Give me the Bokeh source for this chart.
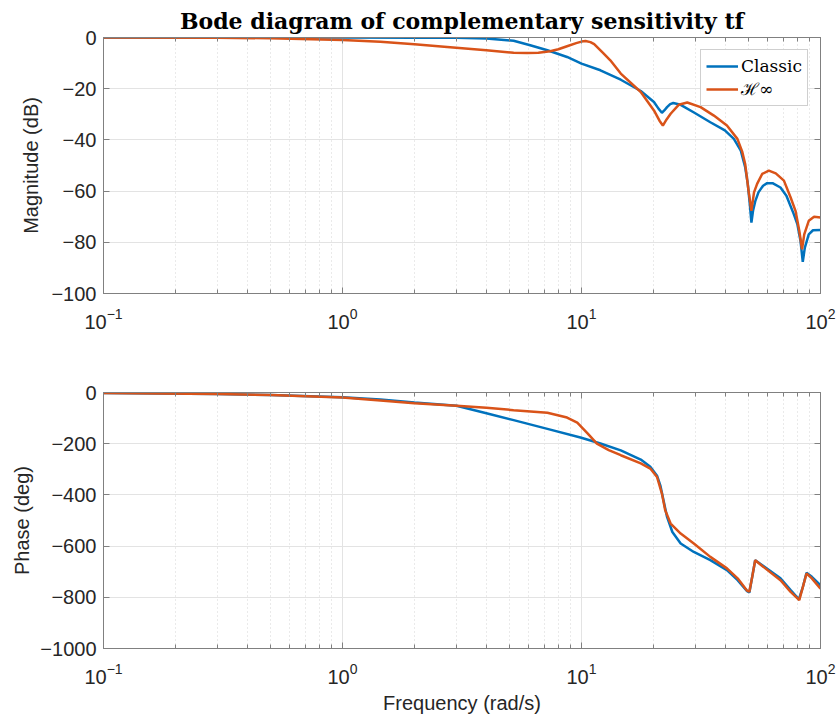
from bokeh.plotting import figure
from bokeh.models import (FixedTicker, LogAxis, LinearAxis, Range1d, Legend,
                          LegendItem)
from bokeh.layouts import column
from bokeh.embed import file_html
from bokeh.resources import INLINE

# ---------------- data ----------------
title_text = "Bode diagram of complementary sensitivity tf"
series_names = ["Classic", "\u210b\u221e"]

mag_classic_f = [0.1, 0.3, 1, 2, 3, 4, 5.2, 6.1, 7.2, 8.7, 10, 12.0, 14.6, 17.7,
                 20.1, 21.0, 21.7, 22.2, 22.8, 23.5, 24.2, 26.0, 29.8, 34.6,
                 39.8, 43.4, 46.4, 48.4, 49.6, 50.6, 51.4, 52.2, 53.4, 55, 57.5,
                 59.8, 63, 68, 72, 77.3, 80, 82.5, 84.3, 86, 89.3, 93, 100]
mag_classic = [0, 0, 0, -0.05, -0.1, -0.4, -1.3, -3.0, -5.0, -7.6, -10.2,
               -12.8, -16.5, -20.9, -25.2, -27.8, -29.4, -28.5, -27.2, -26.0,
               -25.6, -26.3, -29.5, -33.1, -36.3, -39.6, -44.2, -50.7, -57,
               -65, -72.3, -67.7, -63.8, -60.5, -57.9, -56.9, -56.9, -58.6,
               -61.8, -69, -72.9, -79.5, -87.6, -82.1, -76.9, -75.3, -75.2]

mag_hinf_f = [0.1, 0.3, 0.5, 1, 1.44, 2, 2.74, 4, 5.2, 5.93, 6.6, 7.4, 8.0, 8.7,
              9.5, 10.0, 10.4, 10.9, 11.3, 12.3, 13.2, 14.6, 17.7, 20.1, 21.2,
              21.9, 22.7, 23.6, 25.5, 27.7, 31.5, 35.8, 40.6, 44.9, 47.0, 48.4,
              50, 51.4, 52.7, 54.3, 57, 60.8, 65, 70.3, 75, 78.6, 81.5, 83.7,
              85.5, 89.3, 94, 100]
mag_hinf = [0, -0.1, -0.3, -1.0, -1.7, -2.6, -3.7, -5.0, -6.0, -6.1, -6.0, -5.4,
            -4.6, -3.4, -2.2, -1.6, -1.4, -1.8, -2.6, -6.0, -8.9, -14.1, -21.3,
            -28.5, -32.5, -34.4, -32.0, -29.8, -26.3, -25.4, -27.2, -30.5,
            -34.4, -39.6, -44.5, -49.4, -59.9, -67.7, -60.5, -57.2, -53.3,
            -52, -53.1, -55.9, -62.5, -67.7, -75.5, -82.7, -76.9, -71.6, -70,
            -70.3]

ph_classic_f = [0.1, 0.3, 0.5, 1, 1.44, 2, 3, 4, 5.2, 7.2, 9.9, 12.0, 14.6,
                17.7, 19.4, 20.7, 21.4, 22.1, 22.8, 24.0, 26.0, 29.5, 34.6,
                40.6, 45, 49.3, 50.4, 51.8, 53.3, 55.2, 68, 75, 81.2, 84.4,
                87.4, 92, 100]
ph_classic = [-2, -6, -10, -19, -27, -39, -52, -81, -108, -142, -176, -199,
              -226, -262, -290, -325, -365, -427, -486, -545, -590, -623, -655,
              -694, -733, -776, -781, -720, -655, -665, -726, -772, -808, -759,
              -704, -720, -753]

ph_hinf_f = [0.1, 0.3, 0.5, 1, 1.44, 2, 3, 4, 5.2, 7.2, 8.7, 9.6, 10.6, 11.6,
             13.0, 14.6, 17.7, 19.4, 20.7, 21.7, 22.4, 23.6, 26.0, 29.5, 34.6,
             40.6, 45, 49.3, 50.4, 51.8, 53.3, 55.2, 68, 75, 81.5, 84.4, 87.4,
             92, 100]
ph_hinf = [-2, -6, -10, -20, -31, -42, -52, -60, -69, -79, -98, -118, -160,
           -200, -225, -245, -277, -297, -330, -395, -460, -512, -551, -590,
           -642, -687, -726, -774, -778, -720, -655, -667, -733, -779, -811,
           -759, -707, -726, -766]

x_ticks = [0.1, 1, 10, 100]
x_minor = [0.2, 0.3, 0.4, 0.5, 0.6, 0.7, 0.8, 0.9, 2, 3, 4, 5, 6, 7, 8, 9,
           20, 30, 40, 50, 60, 70, 80, 90]
mag_ticks = [-100, -80, -60, -40, -20, 0]
ph_ticks = [-1000, -800, -600, -400, -200, 0]

BLUE = "#0072BD"
ORANGE = "#D95319"
AX = "#808080"
TXT = "#262626"
SANS = "Liberation Sans"


def style(p, yticks, ylabel, ylabel_standoff, xlabel=None):
    p.xaxis.ticker = FixedTicker(ticks=x_ticks, minor_ticks=x_minor)
    p.yaxis.ticker = FixedTicker(ticks=yticks)
    for ax in p.xaxis + p.yaxis:
        ax.axis_line_color = AX
        ax.major_tick_line_color = AX
        ax.minor_tick_line_color = AX
        ax.major_tick_in = 6
        ax.major_tick_out = 0
        ax.minor_tick_in = 4
        ax.minor_tick_out = 0
        ax.major_label_text_font = SANS
        ax.major_label_text_font_size = "20px"
        ax.major_label_text_color = TXT
        ax.axis_label_text_font = SANS
        ax.axis_label_text_font_size = "20px"
        ax.axis_label_text_font_style = "normal"
        ax.axis_label_text_color = TXT
    p.yaxis.minor_tick_line_color = None
    p.yaxis.major_label_standoff = 7
    p.yaxis.axis_label = ylabel
    p.yaxis.axis_label_standoff = ylabel_standoff
    p.xaxis.major_label_standoff = 14
    if xlabel:
        p.xaxis.axis_label = xlabel
        p.xaxis.axis_label_standoff = 5
    p.xgrid.grid_line_color = "#e3e3e3"
    p.ygrid.grid_line_color = "#e3e3e3"
    p.xgrid.minor_grid_line_color = "#d5d5d5"
    p.xgrid.minor_grid_line_dash = "1 3"
    p.outline_line_color = AX
    p.outline_line_width = 1
    p.background_fill_color = "white"
    p.border_fill_color = "white"


def mirror(p, yticks):
    # mirrored tick marks (top and right) without labels
    top = LogAxis(ticker=FixedTicker(ticks=x_ticks, minor_ticks=x_minor),
                  major_label_text_font_size="2px", major_label_text_alpha=0,
                  major_label_standoff=0,
                  axis_line_color=AX, major_tick_line_color=AX,
                  minor_tick_line_color=AX, major_tick_in=6, major_tick_out=0,
                  minor_tick_in=4, minor_tick_out=0)
    right = LinearAxis(ticker=FixedTicker(ticks=yticks),
                       major_label_text_font_size="2px",
                       major_label_text_alpha=0, major_label_standoff=0,
                       axis_line_color=AX, major_tick_line_color=AX,
                       minor_tick_line_color=None, major_tick_in=6,
                       major_tick_out=0)
    p.add_layout(top, "above")
    p.add_layout(right, "right")


# ---------------- magnitude ----------------
p1 = figure(width=838, height=360, x_axis_type="log",
            x_range=Range1d(0.1, 100), y_range=Range1d(-100, 0),
            output_backend="svg", toolbar_location=None,
            min_border_left=103, min_border_right=18, min_border_top=37,
            min_border_bottom=67, title=title_text)
p1.title.align = "center"
p1.title.text_font = "DejaVu Serif"
p1.title.text_font_style = "bold"
p1.title.text_font_size = "22px"
p1.title.text_color = "black"
p1.title.standoff = 7

r1 = p1.line(mag_classic_f, mag_classic, line_color=BLUE, line_width=2.5)
r2 = p1.line(mag_hinf_f, mag_hinf, line_color=ORANGE, line_width=2.5)
style(p1, mag_ticks, "Magnitude (dB)", 6)
mirror(p1, mag_ticks)

legend = Legend(items=[LegendItem(label=series_names[0], renderers=[r1]),
                       LegendItem(label=series_names[1], renderers=[r2])],
                location="top_right", margin=12, padding=5, spacing=0,
                glyph_width=32, label_standoff=3, label_height=22,
                label_text_font="DejaVu Serif", label_text_font_size="17px",
                label_text_color="black", border_line_color="#a0a0a0",
                background_fill_color="white", background_fill_alpha=1.0)
p1.add_layout(legend)

# ---------------- phase ----------------
p2 = figure(width=838, height=362, x_axis_type="log",
            x_range=Range1d(0.1, 100), y_range=Range1d(-1000, 0),
            output_backend="svg", toolbar_location=None,
            min_border_left=103, min_border_right=18, min_border_top=32,
            min_border_bottom=74)
p2.line(ph_classic_f, ph_classic, line_color=BLUE, line_width=2.5)
p2.line(ph_hinf_f, ph_hinf, line_color=ORANGE, line_width=2.5)
style(p2, ph_ticks, "Phase (deg)", 4, "Frequency (rad/s)")
mirror(p2, ph_ticks)

layout = column(p1, p2, spacing=0)
open("out.html", "w").write(file_html(layout, INLINE))
